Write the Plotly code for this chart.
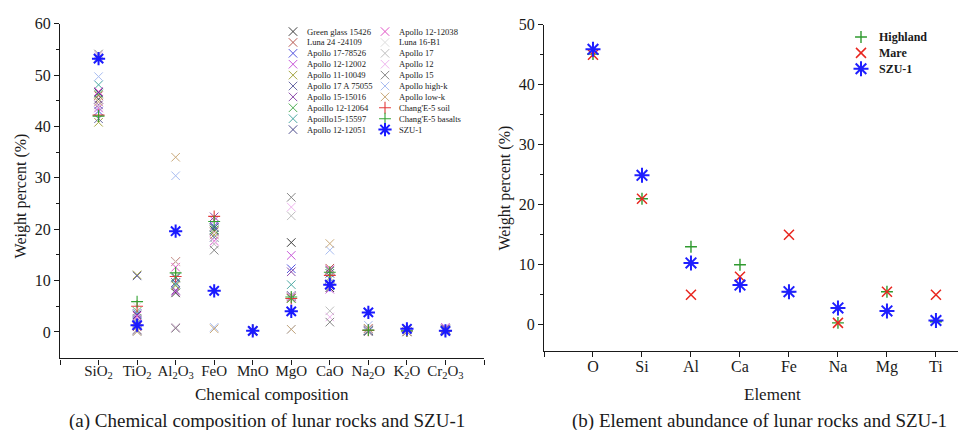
import plotly.graph_objects as go

W, H = 963, 430
SERIF = "Liberation Serif, Times New Roman, serif"
INK = "#1a1a1a"

# ---- (a) oxide composition (wt%) ----
oxides = ["SiO<sub>2</sub>", "TiO<sub>2</sub>", "Al<sub>2</sub>O<sub>3</sub>", "FeO", "MnO",
          "MgO", "CaO", "Na<sub>2</sub>O", "K<sub>2</sub>O", "Cr<sub>2</sub>O<sub>3</sub>"]

green_glass_15426 = [45.3, 0.4, 7.6, 19.8, 0.25, 17.4, 8.6, 0.12, 0.02, 0.55]
luna_24_24109 = [46.0, 1.0, 13.7, 19.5, 0.26, 6.6, 12.4, 0.30, 0.03, 0.30]
apollo17_78526 = [43.0, 3.6, 9.6, 20.6, 0.28, 12.3, 10.4, 0.30, 0.05, 0.45]
apollo12_12002 = [43.6, 2.6, 7.9, 21.7, 0.28, 14.9, 8.3, 0.22, 0.05, 0.90]
apollo11_10049 = [40.8, 11.1, 9.0, 18.9, 0.25, 6.5, 10.6, 0.60, 0.40, 0.25]
apollo17a_75055 = [41.5, 10.9, 9.6, 18.4, 0.28, 6.9, 12.0, 0.42, 0.06, 0.20]
apollo15_15016 = [44.2, 2.2, 8.1, 22.4, 0.30, 11.7, 9.0, 0.22, 0.05, 0.62]
apollo12_12064 = [46.3, 4.0, 10.7, 19.9, 0.27, 6.5, 11.8, 0.30, 0.07, 0.35]
apollo15_15597 = [48.1, 1.8, 9.3, 20.3, 0.28, 9.2, 10.4, 0.30, 0.05, 0.40]
apollo12_12051 = [46.6, 3.3, 10.5, 20.3, 0.28, 7.1, 11.4, 0.30, 0.07, 0.30]
apollo12_12038 = [46.8, 3.1, 12.6, 17.7, 0.25, 6.8, 12.1, 0.68, 0.08, 0.25]
luna16_b1 = [43.9, 4.9, 13.6, 19.3, 0.20, 7.0, 10.5, 0.40, 0.15, 0.28]
apollo17 = [53.5, 0.5, 0.9, 17.1, 0.30, 22.6, 4.1, 0.05, 0.01, 0.40]
apollo12 = [53.8, 0.4, 0.8, 17.6, 0.30, 24.3, 2.9, 0.05, 0.01, 0.45]
apollo15 = [54.1, 0.3, 0.7, 15.9, 0.30, 26.2, 1.9, 0.05, 0.01, 0.50]
apollo_high_k = [49.7, 0.1, 30.4, 0.9, 0.02, 0.5, 15.9, 1.30, 0.55, 0.02]
apollo_low_k = [44.8, 0.05, 34.0, 0.6, 0.01, 0.5, 17.2, 0.70, 0.05, 0.01]
change5_soil = [42.2, 5.0, 10.8, 22.5, 0.28, 6.5, 11.0, 0.30, 0.19, 0.20]
change5_basalts = [42.0, 5.9, 11.5, 21.5, 0.28, 6.8, 11.6, 0.35, 0.20, 0.25]
szu1_oxides = [53.2, 1.3, 19.6, 8.0, 0.2, 4.0, 9.2, 3.8, 0.6, 0.2]

sample_names = ["Green glass 15426", "Luna 24 -24109", "Apollo 17-78526", "Apollo 12-12002",
                "Apollo 11-10049", "Apollo 17 A 75055", "Apollo 15-15016", "Apoillo 12-12064",
                "Apoillo15-15597", "Apollo 12-12051", "Apollo 12-12038", "Luna 16-B1",
                "Apollo 17", "Apollo 12", "Apollo 15", "Apollo high-k", "Apollo low-k",
                "Chang'E-5 soil", "Chang'E-5 basalts", "SZU-1"]
sample_values = [green_glass_15426, luna_24_24109, apollo17_78526, apollo12_12002,
                 apollo11_10049, apollo17a_75055, apollo15_15016, apollo12_12064,
                 apollo15_15597, apollo12_12051, apollo12_12038, luna16_b1,
                 apollo17, apollo12, apollo15, apollo_high_k, apollo_low_k,
                 change5_soil, change5_basalts, szu1_oxides]
sample_colors = ["#3a3a3a", "#b8584f", "#5454e0", "#c757d8", "#a6a645", "#6a6aa6",
                 "#8c4cab", "#4fae55", "#4aa8a2", "#4b4b8c", "#e052c6", "#dedede",
                 "#bebebe", "#efb6ef", "#868686", "#a9bdf1", "#c9a97a",
                 "#e33a3a", "#33a333", "#1a1aff"]

# ---- (b) element abundance (wt%) ----
elements = ["O", "Si", "Al", "Ca", "Fe", "Na", "Mg", "Ti"]
highland = [45.1, 21.0, 13.0, 10.0, 5.5, 0.3, 5.5, 0.5]
mare = [45.0, 21.0, 5.0, 8.0, 15.0, 0.3, 5.5, 5.0]
szu1_elements = [45.9, 24.9, 10.3, 6.6, 5.5, 2.8, 2.3, 0.7]

element_series = [("Highland", highland, "#2f9a2f"),
                  ("Mare", mare, "#e8261f"),
                  ("SZU-1", szu1_elements, "#1f1fff")]


def marker_style(name, color, panel):
    """Open line-marker used for a series in panel 'a' or 'b'."""
    if name == "SZU-1":
        return dict(symbol="asterisk-open", size=11 if panel == "a" else 12.5,
                    color=color, line=dict(width=2))
    if name.startswith("Chang") or name == "Highland":
        return dict(symbol="cross-thin-open", size=8.5, color=color,
                    line=dict(width=1.1 if panel == "a" else 1.4))
    return dict(symbol="x-thin-open", size=8.5 if panel == "a" else 10, color=color,
                line=dict(width=1.0 if panel == "a" else 1.5))


fig = go.Figure()

oxide_pos = list(range(1, len(oxides) + 1))
for name, vals, col in zip(sample_names, sample_values, sample_colors):
    fig.add_trace(go.Scatter(x=oxide_pos, y=vals, mode="markers", name=name,
                             marker=marker_style(name, col, "a"),
                             xaxis="x", yaxis="y", showlegend=False, cliponaxis=False))

element_pos = list(range(1, len(elements) + 1))
for name, vals, col in element_series:
    fig.add_trace(go.Scatter(x=element_pos, y=vals, mode="markers", name=name,
                             marker=marker_style(name, col, "b"),
                             xaxis="x2", yaxis="y2", showlegend=False, cliponaxis=False))

# ---- compact legends, drawn on a pixel-mapped overlay axis ----
annotations = []


def legend_entry(name, col, panel, mx, my, tx, size, bold=False):
    fig.add_trace(go.Scatter(x=[mx], y=[my], mode="markers", showlegend=False,
                             marker=marker_style(name, col, panel), hoverinfo="skip",
                             xaxis="x3", yaxis="y3", cliponaxis=False))
    annotations.append(dict(x=tx / W, y=1 - my / H, xref="paper", yref="paper",
                            text=name, showarrow=False, xanchor="left", yanchor="middle",
                            font=dict(family=SERIF, size=size, color=INK,
                                      weight="bold" if bold else "normal")))


rows_a = 10
for i, (name, col) in enumerate(zip(sample_names, sample_colors)):
    column, row = divmod(i, rows_a)
    mx = 293 + column * 92
    my = 24 + row * 11.1
    legend_entry(name, col, "a", mx, my, mx + 12, 8.6)

for i, (name, _, col) in enumerate(element_series):
    my = 29.5 + i * 16.2
    legend_entry(name, col, "b", 861, my, 877, 12, bold=True)

# ---- axis titles and captions ----
def text(x, y, s, size, angle=0):
    annotations.append(dict(x=x / W, y=1 - y / H, xref="paper", yref="paper", text=s,
                            showarrow=False, xanchor="center", yanchor="middle",
                            textangle=angle, font=dict(family=SERIF, size=size, color=INK)))


text(21, 192, "Weight percent (%)", 16, -90)
text(505, 184, "Weight percent (%)", 16, -90)
text(272, 394, "Chemical composition", 17)
text(772, 394, "Element", 17)
text(267, 421, "(a) Chemical composition of lunar rocks and SZU-1", 19)
text(759, 421, "(b) Element abundance of lunar rocks and SZU-1", 19)

tick_font = dict(family=SERIF, size=16, color=INK)
common = dict(showgrid=False, zeroline=False, showline=True, linecolor=INK, linewidth=1.3,
              ticks="outside", ticklen=5, tickwidth=1.2, tickcolor=INK, tickfont=tick_font,
              fixedrange=True)

fig.update_layout(
    width=W, height=H, margin=dict(l=0, r=0, t=0, b=0),
    paper_bgcolor="white", plot_bgcolor="rgba(0,0,0,0)",
    showlegend=False, annotations=annotations,
    xaxis=dict(domain=[60 / W, 484 / W], range=[0, 11], anchor="y",
               tickvals=list(range(0, 12)), ticktext=[""] + oxides + [""],
               ticklabelstandoff=-7,
               **{**common, "tickfont": dict(family=SERIF, size=15, color=INK)}),
    yaxis=dict(domain=[1 - 357 / H, 1 - 16 / H], range=[-5.15, 60], anchor="x",
               tickvals=list(range(0, 61, 10)),
               minor=dict(tickvals=list(range(5, 60, 10)), ticks="outside", ticklen=3,
                          tickwidth=1.1, tickcolor=INK), **common),
    xaxis2=dict(domain=[544 / W, 958 / W], range=[0, 8.45], anchor="y2",
                tickvals=list(range(0, 9)), ticktext=[""] + elements,
                ticklabelstandoff=-4, **common),
    yaxis2=dict(domain=[1 - 349 / H, 1 - 17 / H], range=[-4.3, 50], anchor="x2",
                tickvals=list(range(0, 51, 10)),
                minor=dict(tickvals=list(range(5, 50, 10)), ticks="outside", ticklen=3,
                           tickwidth=1.1, tickcolor=INK), **common),
    xaxis3=dict(domain=[0, 1], range=[0, W], anchor="y3", visible=False, fixedrange=True),
    yaxis3=dict(domain=[0, 1], range=[H, 0], anchor="x3", visible=False, fixedrange=True),
)

fig.write_html("out.html")
